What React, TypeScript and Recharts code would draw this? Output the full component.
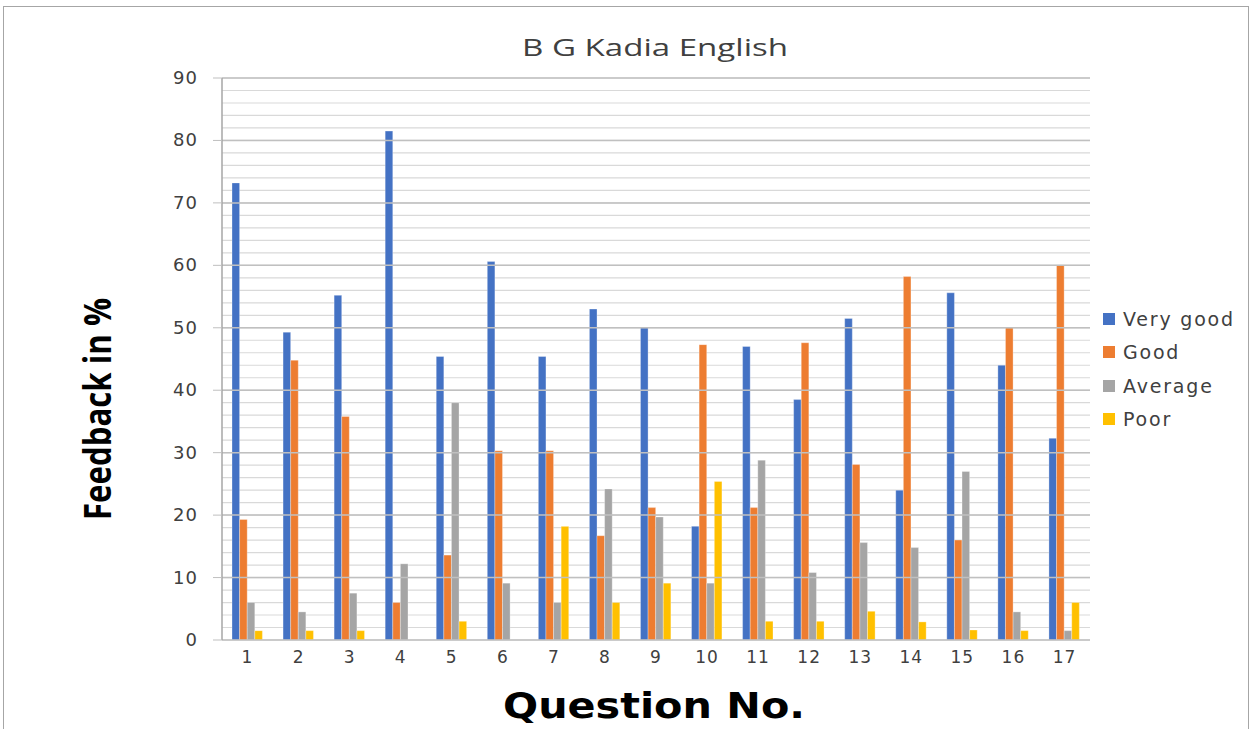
import React from "react";
import { BarChart, Bar, XAxis, YAxis, CartesianGrid, ReferenceLine } from "recharts";

const questions = ["1","2","3","4","5","6","7","8","9","10","11","12","13","14","15","16","17"];
const veryGood = [73.2, 49.3, 55.2, 81.5, 45.4, 60.6, 45.4, 53.0, 50.0, 18.2, 47.0, 38.5, 51.5, 24.0, 55.6, 44.0, 32.3];
const good = [19.3, 44.8, 35.8, 6.0, 13.6, 30.3, 30.3, 16.7, 21.2, 47.3, 21.2, 47.6, 28.1, 58.2, 16.0, 50.0, 60.0];
const average = [6.0, 4.5, 7.5, 12.2, 38.0, 9.1, 6.0, 24.2, 19.7, 9.1, 28.8, 10.8, 15.6, 14.8, 27.0, 4.5, 1.5];
const poor = [1.5, 1.5, 1.5, 0, 3.0, 0, 18.2, 6.0, 9.1, 25.4, 3.0, 3.0, 4.6, 2.9, 1.6, 1.5, 6.0];

const seriesNames = ["Very good", "Good", "Average", "Poor"];
const seriesKeys = ["vg", "g", "avg", "p"];
const seriesColors = ["#4472C4", "#ED7D31", "#A5A5A5", "#FFC000"];

const yTicks = [0, 2, 4, 6, 8, 10, 12, 14, 16, 18, 20, 22, 24, 26, 28, 30, 32, 34, 36, 38, 40, 42, 44, 46, 48, 50, 52, 54, 56, 58, 60, 62, 64, 66, 68, 70, 72, 74, 76, 78, 80, 82, 84, 86, 88, 90];
const majorTicks = [10, 20, 30, 40, 50, 60, 70, 80, 90];

const data = questions.map((q, i) => ({
  q,
  vg: veryGood[i],
  g: good[i],
  avg: average[i],
  p: poor[i],
}));

const PLOT_LEFT = 222;

const YTick = (props: any) => {
  const { y, payload } = props;
  const v = payload.value;
  if (v % 10 !== 0) return null;
  return (
    <g>
      <line x1={PLOT_LEFT - 9} x2={PLOT_LEFT} y1={y} y2={y} stroke="#BFBFBF" strokeWidth={1} />
      <text x={PLOT_LEFT - 24} y={y} dy={6} textAnchor="end" fill="#404040" fontSize={18} fontFamily="'DejaVu Sans', Verdana, sans-serif" letterSpacing={1}>
        {v}
      </text>
    </g>
  );
};

const XTick = (props: any) => {
  const { x, y, payload } = props;
  return (
    <text x={x} y={y} dy={15} textAnchor="middle" fill="#404040" fontSize={17} fontFamily="'DejaVu Sans', Verdana, sans-serif" letterSpacing={1}>
      {payload.value}
    </text>
  );
};

export default function App() {
  return (
    <div style={{ position: "absolute", left: 0, top: 0, width: 1253, height: 729, background: "#fff", overflow: "hidden" }}>
      <div style={{ position: "absolute", left: 3, top: 6, width: 1246, height: 730, border: "1px solid #A6A6A6", boxSizing: "border-box" }} />
      <BarChart
        width={1253}
        height={729}
        data={data}
        margin={{ top: 78, right: 163, bottom: 59, left: 162 }}
        barGap={0}
        barCategoryGap="20%"
      >
        <CartesianGrid horizontal={true} vertical={false} stroke="#D9D9D9" strokeWidth={1.2} />
        {majorTicks.map((t) => (
          <ReferenceLine key={t} y={t} stroke="#C0C0C0" strokeWidth={1.5} />
        ))}
        <XAxis
          dataKey="q"
          height={30}
          tickLine={false}
          axisLine={{ stroke: "#BFBFBF", strokeWidth: 1.5 }}
          tick={<XTick />}
          interval={0}
        />
        <YAxis
          width={60}
          domain={[0, 90]}
          ticks={yTicks}
          interval={0}
          tickLine={false}
          axisLine={{ stroke: "#A6A6A6", strokeWidth: 1.5 }}
          tick={<YTick />}
        />
        {seriesKeys.map((k, i) => (
          <Bar key={k} dataKey={k} name={seriesNames[i]} fill={seriesColors[i]} stroke="#ffffff" strokeOpacity={0.5} strokeWidth={0.6} barSize={7.6} isAnimationActive={false} />
        ))}
      </BarChart>

      <svg style={{ position: "absolute", left: 0, top: 0 }} width={1253} height={729}>
        <text
          x={655}
          y={56}
          textAnchor="middle"
          fontFamily="'Open Sans', 'DejaVu Sans', sans-serif"
          fontSize={24}
          fill="#404040"
          textLength={266}
          lengthAdjust="spacingAndGlyphs"
        >
          B G Kadia English
        </text>
        <text
          x={0}
          y={0}
          transform="translate(111,409) rotate(-90)"
          textAnchor="middle"
          fontFamily="'Open Sans', 'DejaVu Sans', sans-serif"
          fontWeight="bold"
          fontSize={38}
          fill="#000"
          textLength={222}
          lengthAdjust="spacingAndGlyphs"
        >
          Feedback in %
        </text>
        <text
          x={654}
          y={718}
          textAnchor="middle"
          fontFamily="'DejaVu Sans', Verdana, sans-serif"
          fontWeight="bold"
          fontSize={35}
          fill="#000"
          textLength={302}
          lengthAdjust="spacingAndGlyphs"
        >
          Question No.
        </text>
      </svg>

      <div style={{ position: "absolute", left: 1103, top: 302 }}>
        {seriesNames.map((n, i) => (
          <div key={n} style={{ display: "flex", alignItems: "center", height: 33.5, fontFamily: "'DejaVu Sans', Verdana, sans-serif", fontSize: 19, letterSpacing: 1.8, color: "#404040" }}>
            <span style={{ display: "inline-block", width: 12, height: 12, background: seriesColors[i], marginRight: 8 }} />
            {n}
          </div>
        ))}
      </div>
    </div>
  );
}
